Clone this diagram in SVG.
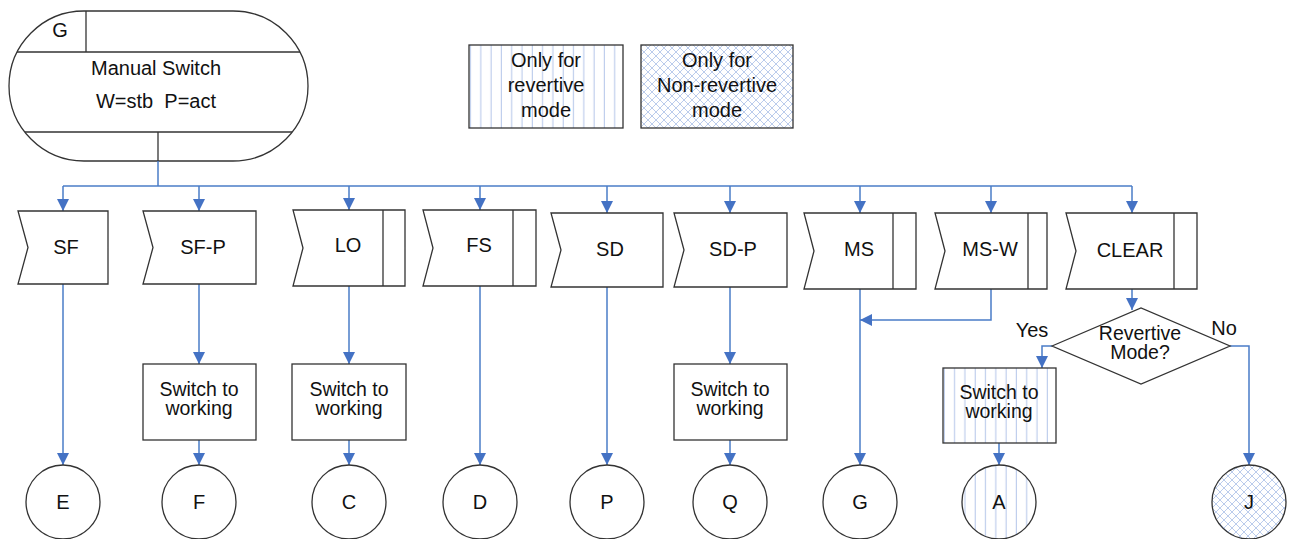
<svg xmlns="http://www.w3.org/2000/svg" width="1297" height="539" viewBox="0 0 1297 539">
<style>
.s{fill:#fff;stroke:#333;stroke-width:1.3}
.l{fill:none;stroke:#333;stroke-width:1.3}
.c{fill:none;stroke:#4a7cc7;stroke-width:1.5}
text{font-family:"Liberation Sans",Arial,sans-serif;font-size:20px;fill:#111;text-anchor:middle}
.t{font-size:19.5px}
</style>
<defs>
<marker id="ah" markerWidth="12" markerHeight="12" viewBox="0 0 12 12" refX="12" refY="6" orient="auto" markerUnits="userSpaceOnUse">
<path d="M0,0 L12,6 L0,12 Z" fill="#4472c4"/>
</marker>
<pattern id="vh" patternUnits="userSpaceOnUse" width="10.3" height="10" x="2">
<rect width="10.3" height="10" fill="#fff"/>
<line x1="5" y1="0" x2="5" y2="10" stroke="#b3c6ea" stroke-width="1"/>
</pattern>
<pattern id="xh" patternUnits="userSpaceOnUse" width="8" height="8">
<rect width="8" height="8" fill="#fff"/>
<path d="M0,0 L8,8 M8,0 L0,8 M-1,7 L1,9 M7,-1 L9,1 M-1,1 L1,-1 M7,9 L9,7" stroke="#b3c6ea" stroke-width="0.9"/>
</pattern>
</defs>

<g id="start">
<rect class="s" x="9" y="11" width="299" height="150" rx="75" ry="75"/>
<line class="l" x1="17" y1="52" x2="300" y2="52"/>
<line class="l" x1="86" y1="11" x2="86" y2="52"/>
<line class="l" x1="25" y1="132" x2="292" y2="132"/>
<line class="l" x1="158" y1="132" x2="158" y2="161"/>
<text x="60" y="37">G</text>
<text x="156" y="75">Manual Switch</text>
<text x="156" y="108" xml:space="preserve">W=stb  P=act</text>
</g>

<g id="legend-revertive">
<rect class="s" x="469" y="45" width="154" height="83" style="fill:url(#vh)"/>
<text x="546" y="67">Only for</text>
<text x="546" y="92">revertive</text>
<text x="546" y="117">mode</text>
</g>
<g id="legend-nonrevertive">
<rect class="s" x="641" y="45" width="152" height="83" style="fill:url(#xh)"/>
<text x="717" y="67">Only for</text>
<text x="717" y="92">Non-revertive</text>
<text x="717" y="117">mode</text>
</g>

<g id="connectors">
<path class="c" d="M158,161 V186"/>
<path class="c" d="M63,186 H1132"/>
<path class="c" d="M63,186 V211" marker-end="url(#ah)"/>
<path class="c" d="M199,186 V211" marker-end="url(#ah)"/>
<path class="c" d="M349,186 V210" marker-end="url(#ah)"/>
<path class="c" d="M480,186 V210" marker-end="url(#ah)"/>
<path class="c" d="M607,186 V213" marker-end="url(#ah)"/>
<path class="c" d="M730,186 V213" marker-end="url(#ah)"/>
<path class="c" d="M860,186 V213" marker-end="url(#ah)"/>
<path class="c" d="M991,186 V213" marker-end="url(#ah)"/>
<path class="c" d="M1132,186 V213" marker-end="url(#ah)"/>

<path class="c" d="M63,284 V465" marker-end="url(#ah)"/>
<path class="c" d="M199,284 V364" marker-end="url(#ah)"/>
<path class="c" d="M199,440 V465" marker-end="url(#ah)"/>
<path class="c" d="M349,286 V364" marker-end="url(#ah)"/>
<path class="c" d="M349,440 V465" marker-end="url(#ah)"/>
<path class="c" d="M480,286 V465" marker-end="url(#ah)"/>
<path class="c" d="M607,287 V465" marker-end="url(#ah)"/>
<path class="c" d="M730,287 V364" marker-end="url(#ah)"/>
<path class="c" d="M730,440 V465" marker-end="url(#ah)"/>
<path class="c" d="M860,289 V465" marker-end="url(#ah)"/>
<path class="c" d="M991,289 V320 H860" marker-end="url(#ah)"/>
<path class="c" d="M1132,289 V310" marker-end="url(#ah)"/>
<path class="c" d="M1052,346 H1042 V368" marker-end="url(#ah)"/>
<path class="c" d="M1230,346 H1249 V465" marker-end="url(#ah)"/>
<path class="c" d="M999,443 V465" marker-end="url(#ah)"/>
</g>

<g id="SF"><polygon class="s" points="18,211 108,211 108,284 18,284 28,247.5"/><text x="66" y="254">SF</text></g>
<g id="SF-P"><polygon class="s" points="143,211 256,211 256,284 143,284 153,247.5"/><text x="203" y="254">SF-P</text></g>
<g id="LO"><polygon class="s" points="293,210 405,210 405,286 293,286 303,248"/><line class="l" x1="383" y1="210" x2="383" y2="286"/><text x="348" y="252">LO</text></g>
<g id="FS"><polygon class="s" points="423,210 536,210 536,286 423,286 433,248"/><line class="l" x1="513" y1="210" x2="513" y2="286"/><text x="479" y="252">FS</text></g>
<g id="SD"><polygon class="s" points="551,213 663,213 663,287 551,287 561,250"/><text x="610" y="256">SD</text></g>
<g id="SD-P"><polygon class="s" points="674,213 787,213 787,287 674,287 684,250"/><text x="733" y="256">SD-P</text></g>
<g id="MS"><polygon class="s" points="804,213 916,213 916,289 804,289 814,251"/><line class="l" x1="893" y1="213" x2="893" y2="289"/><text x="859" y="256">MS</text></g>
<g id="MS-W"><polygon class="s" points="935,213 1047,213 1047,289 935,289 945,251"/><line class="l" x1="1028" y1="213" x2="1028" y2="289"/><text x="990" y="256">MS-W</text></g>
<g id="CLEAR"><polygon class="s" points="1066,213 1197,213 1197,289 1066,289 1076,251"/><line class="l" x1="1174" y1="213" x2="1174" y2="289"/><text x="1130" y="257">CLEAR</text></g>

<g id="sw1"><rect class="s" x="143" y="364" width="113" height="76"/><text class="t" x="199" y="396">Switch to</text><text class="t" x="199" y="415">working</text></g>
<g id="sw2"><rect class="s" x="292" y="364" width="114" height="76"/><text class="t" x="349" y="396">Switch to</text><text class="t" x="349" y="415">working</text></g>
<g id="sw3"><rect class="s" x="674" y="364" width="113" height="76"/><text class="t" x="730" y="396">Switch to</text><text class="t" x="730" y="415">working</text></g>
<g id="sw4"><rect class="s" x="943" y="368" width="113" height="75" style="fill:url(#vh)"/><text class="t" x="999" y="399">Switch to</text><text class="t" x="999" y="418">working</text></g>

<g id="decision"><polygon class="s" points="1052,346 1141,308 1230,346 1141,384"/><text class="t" x="1140" y="340">Revertive</text><text class="t" x="1140" y="359">Mode?</text></g>
<text x="1032" y="337">Yes</text>
<text x="1224" y="335">No</text>

<g id="E"><circle class="s" cx="63" cy="502" r="37"/><text x="63" y="509">E</text></g>
<g id="F"><circle class="s" cx="199" cy="502" r="37"/><text x="199" y="509">F</text></g>
<g id="C"><circle class="s" cx="349" cy="502" r="37"/><text x="349" y="509">C</text></g>
<g id="D"><circle class="s" cx="480" cy="502" r="37"/><text x="480" y="509">D</text></g>
<g id="P"><circle class="s" cx="607" cy="502" r="37"/><text x="607" y="509">P</text></g>
<g id="Q"><circle class="s" cx="730" cy="502" r="37"/><text x="730" y="509">Q</text></g>
<g id="G"><circle class="s" cx="860" cy="502" r="37"/><text x="860" y="509">G</text></g>
<g id="A"><circle class="s" cx="999" cy="502" r="37" style="fill:url(#vh)"/><text x="999" y="509">A</text></g>
<g id="J"><circle class="s" cx="1249" cy="502" r="37" style="fill:url(#xh)"/><text x="1249" y="509">J</text></g>
</svg>
